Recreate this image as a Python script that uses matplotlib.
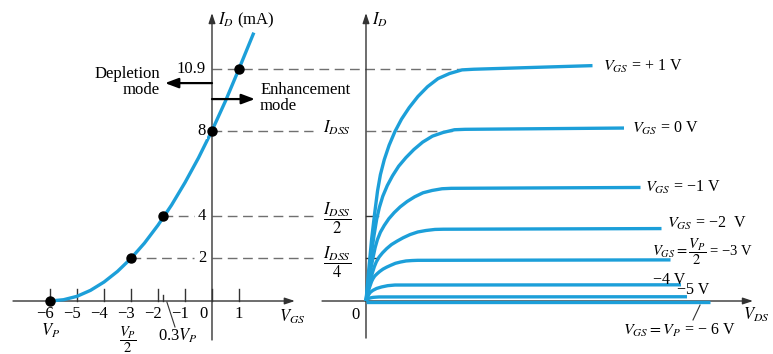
import matplotlib
matplotlib.use("Agg")
import matplotlib.pyplot as plt

plt.rcParams['font.family'] = ['Liberation Serif', 'DejaVu Serif']
plt.rcParams['mathtext.fontset'] = 'stix'

# transfer characteristic, I_D (mA) against V_GS (V)
vgs = [-6, -5.5, -5, -4.5, -4, -3.5, -3, -2.5, -2, -1.5, -1, -0.5, 0, 0.5, 1, 1.55]
id_transfer = [0, 0.06, 0.22, 0.5, 0.89, 1.39, 2.0, 2.72, 3.56, 4.5, 5.56, 6.72, 8.0, 9.39, 10.9, 12.6]
marked_vgs = [-6, -3, -1.8, 0, 1]
marked_id = [0, 2, 4, 8, 10.9]
vgs_ticks = [-6, -5, -4, -3, -2, -1, 0, 1]
vgs_labels = ['−6', '−5', '−4', '−3', '−2', '−1', '0', '1']

# drain characteristics, one curve per V_GS
vds_p1 = [0, 0.19, 0.38, 0.58, 0.77, 0.96, 1.22, 1.54, 1.92, 2.37, 2.88, 3.46, 4.1, 4.8, 5.57, 6.4, 7.17, 15.1]
id_p1 = [0, 1.52, 2.94, 4.13, 5.17, 5.93, 6.64, 7.31, 7.94, 8.54, 9.08, 9.6, 10.06, 10.44, 10.68, 10.85, 10.88, 11.05]
vds_0 = [0, 0.18, 0.35, 0.53, 0.71, 0.89, 1.12, 1.42, 1.77, 2.18, 2.66, 3.19, 3.78, 4.43, 5.13, 5.9, 6.6, 17.2]
id_0 = [0, 1.13, 2.18, 3.06, 3.83, 4.39, 4.92, 5.42, 5.88, 6.33, 6.73, 7.11, 7.46, 7.74, 7.91, 8.04, 8.06, 8.12]
vds_m1 = [0, 0.15, 0.3, 0.46, 0.61, 0.76, 0.96, 1.22, 1.52, 1.88, 2.28, 2.74, 3.24, 3.8, 4.41, 5.07, 5.68, 18.3]
id_m1 = [0, 0.74, 1.43, 2.01, 2.51, 2.88, 3.23, 3.55, 3.86, 4.15, 4.42, 4.67, 4.89, 5.08, 5.19, 5.27, 5.29, 5.33]
vds_m2 = [0, 0.14, 0.28, 0.41, 0.55, 0.69, 0.87, 1.1, 1.38, 1.7, 2.07, 2.48, 2.94, 3.45, 4.0, 4.6, 5.15, 19.7]
id_m2 = [0, 0.47, 0.91, 1.28, 1.6, 1.84, 2.06, 2.26, 2.46, 2.65, 2.81, 2.97, 3.12, 3.24, 3.31, 3.36, 3.37, 3.4]
vds_m3 = [0, 0.09, 0.18, 0.28, 0.37, 0.46, 0.58, 0.74, 0.92, 1.14, 1.38, 1.66, 1.96, 2.3, 2.67, 3.07, 3.44, 20.3]
id_m3 = [0, 0.27, 0.52, 0.73, 0.91, 1.04, 1.17, 1.28, 1.39, 1.5, 1.59, 1.68, 1.77, 1.83, 1.88, 1.9, 1.91, 1.93]
vds_m4 = [0, 0.06, 0.12, 0.19, 0.29, 0.46, 0.71, 1.04, 1.45, 1.93, 21.0]
id_m4 = [0, 0.105, 0.2, 0.31, 0.41, 0.5, 0.59, 0.66, 0.72, 0.75, 0.76]
vds_m5 = [0, 0.05, 0.13, 0.21, 0.32, 0.47, 0.65, 0.87, 21.4]
id_m5 = [0, 0.05, 0.1, 0.13, 0.15, 0.17, 0.18, 0.19, 0.2]
vds_m6 = [0, 22.9]
id_m6 = [-0.05, -0.05]

blue = '#1c9fd9'
axcol = '#333333'
dashcol = '#707070'
fs = 12
fs_curve = 11.5

fig = plt.figure(figsize=(7.73, 3.54), dpi=100)
ax1 = fig.add_axes([0, 0, 310 / 773, 1])
ax2 = fig.add_axes([310 / 773, 0, 463 / 773, 1])
for ax in (ax1, ax2):
    ax.set_axis_off()
    ax.patch.set_visible(False)
    ax.set_ylim(-2.488, 14.131)
ax1.set_xlim(-7.852, 3.630)
ax2.set_xlim(-3.733, 27.133)


def axis_arrow(ax, start, end, lw=1.0, color=axcol, hl=0.6, hw=0.2):
    ax.annotate('', xy=end, xytext=start, annotation_clip=False,
                arrowprops=dict(arrowstyle='-|>,head_length=%g,head_width=%g' % (hl, hw),
                                color=color, lw=lw, shrinkA=0, shrinkB=0))


dash = dict(color=dashcol, lw=1.0, dashes=(7, 4), clip_on=False, zorder=1)

# ---- transfer curve
axis_arrow(ax1, (0, -1.83), (0, 13.52))
axis_arrow(ax1, (-7.37, 0), (3.07, 0))
for t in vgs_ticks:
    ax1.plot([t, t], [0, 0.55], color=axcol, lw=1.0)
ax1.plot([-1.8, -1.8], [0, 0.3], color=axcol, lw=1.0)
for t, lab in zip(vgs_ticks, vgs_labels):
    if t < 0:
        ax1.text(t + 0.15, -0.62, lab, ha='right', va='center', fontsize=fs)
    elif t == 0:
        ax1.text(-0.17, -0.62, lab, ha='right', va='center', fontsize=fs)
    else:
        ax1.text(t, -0.62, lab, ha='center', va='center', fontsize=fs)

# projection lines from the marked points to the drain curves
ax1.plot([0, 9.19], [10.9, 10.9], **dash)
ax1.plot([0, 3.74], [8, 8], **dash)
ax1.plot([5.70, 9.0], [8, 8], **dash)
for y, x0 in ((4, -1.8), (2, -3)):
    ax1.plot([x0, -0.67], [y, y], **dash)
    ax1.plot([0, 3.74], [y, y], **dash)

ax1.plot(vgs, id_transfer, color=blue, lw=2.4, solid_capstyle='butt', zorder=3)
ax1.plot(marked_vgs, marked_id, 'o', color='black', ms=6.5, zorder=4, clip_on=False)

for y, lab in zip([10.9, 8, 4, 2], ['10.9', '8', '4', '2']):
    ax1.text(-0.22, y, lab, ha='right', va='center', fontsize=fs,
             bbox=dict(fc='white', ec='none', pad=0.5))

ax1.text(0.22, 13.19, r'$I_D$ (mA)', ha='left', va='center', fontsize=fs)
ax1.text(2.48, -0.75, r'$V_{GS}$', ha='left', va='center', fontsize=fs)
ax1.text(-5.96, -1.41, r'$V_P$', ha='center', va='center', fontsize=fs)
ax1.text(-3.1, -1.80, r'$\dfrac{V_P}{2}$', ha='center', va='center', fontsize=10.5)
ax1.text(-1.26, -1.64, r'0.3$V_P$', ha='center', va='center', fontsize=fs)
ax1.plot([-1.67, -1.37], [-0.05, -1.22], color=axcol, lw=0.8)

axis_arrow(ax1, (0, 10.23), (-1.74, 10.23), lw=1.6, color='black', hl=0.8, hw=0.3)
axis_arrow(ax1, (0, 9.48), (1.59, 9.48), lw=1.6, color='black', hl=0.8, hw=0.3)
ax1.text(-1.93, 10.28, 'Depletion\nmode', ha='right', va='center', fontsize=fs,
         multialignment='right', linespacing=0.95)
ax1.text(1.78, 9.53, 'Enhancement\nmode', ha='left', va='center', fontsize=fs,
         multialignment='left', linespacing=0.95)

ax1.text(4.63, 8.12, r'$I_{DSS}$', ha='center', va='center', fontsize=fs)
ax1.text(4.63, 3.9, r'$\dfrac{I_{DSS}}{2}$', ha='center', va='center', fontsize=fs)
ax1.text(4.63, 1.83, r'$\dfrac{I_{DSS}}{4}$', ha='center', va='center', fontsize=fs)

# ---- drain characteristics
axis_arrow(ax2, (0, -1.74), (0, 13.52))
axis_arrow(ax2, (-2.93, 0), (25.8, 0))
for y in (4, 2):
    ax2.plot([0, 0.8], [y, y], color=axcol, lw=1.0)

curves = [(vds_p1, id_p1), (vds_0, id_0), (vds_m1, id_m1), (vds_m2, id_m2),
          (vds_m3, id_m3), (vds_m4, id_m4), (vds_m5, id_m5), (vds_m6, id_m6)]
for xs, ys in curves:
    ax2.plot(xs, ys, color=blue, lw=2.4, solid_capstyle='butt',
             solid_joinstyle='round', zorder=3)

ax2.text(0.4, 13.19, r'$I_D$', ha='left', va='center', fontsize=fs)
ax2.text(-0.73, -0.66, '0', ha='center', va='center', fontsize=fs)
ax2.text(25.13, -0.66, r'$V_{DS}$', ha='left', va='center', fontsize=fs)

ax2.text(15.8, 11.03, r'$V_{GS}$ = + 1 V', ha='left', va='center', fontsize=fs_curve)
ax2.text(17.73, 8.12, r'$V_{GS}$ = 0 V', ha='left', va='center', fontsize=fs_curve)
ax2.text(18.6, 5.35, r'$V_{GS}$ = −1 V', ha='left', va='center', fontsize=fs_curve)
ax2.text(20.07, 3.66, r'$V_{GS}$ = −2  V', ha='left', va='center', fontsize=fs_curve)
ax2.text(19.07, 2.3, r'$V_{GS} = \dfrac{V_P}{2}$ = −3 V', ha='left', va='center', fontsize=10.5)
ax2.text(19.13, 1.0, '−4 V', ha='left', va='center', fontsize=fs_curve)
ax2.text(20.73, 0.5, '−5 V', ha='left', va='center', fontsize=fs_curve)
ax2.text(17.1, -1.36, r'$V_{GS} = V_P$ = − 6 V', ha='left', va='center', fontsize=fs_curve)
ax2.plot([22.27, 21.8], [-0.19, -0.89], color=axcol, lw=0.8)

fig.savefig('out.png', dpi=100)
